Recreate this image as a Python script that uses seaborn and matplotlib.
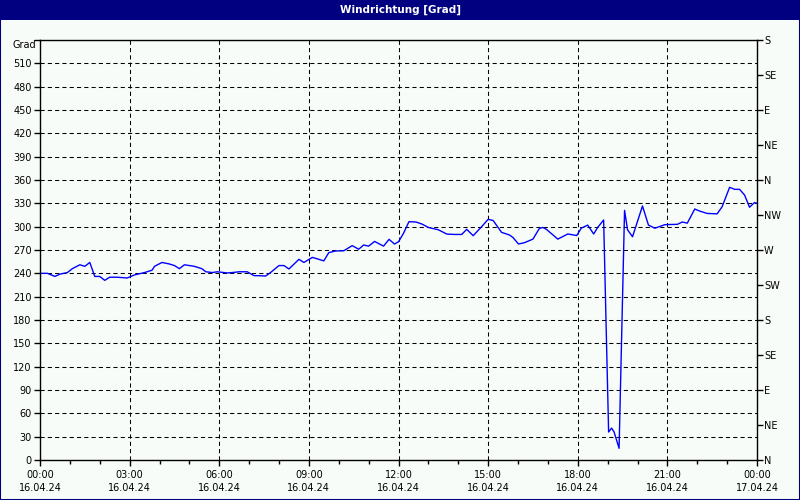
import numpy as np
import pandas as pd
import matplotlib
matplotlib.use('Agg')
import matplotlib.pyplot as plt
from matplotlib.patches import Rectangle
from matplotlib.ticker import MultipleLocator
import seaborn as sns

# values (minutes after 00:00 on 16.04.24, wind direction in degrees)
title = 'Windrichtung [Grad]'
minutes = [0, 15, 30, 40, 55, 65, 80, 90, 100, 110, 120, 130, 140, 155, 175, 190,
           210, 225, 230, 245, 260, 270, 280, 290, 310, 325, 333, 346, 356, 376,
           386, 400, 416, 430, 440, 453, 463, 480, 490, 500, 520, 530, 547, 557,
           570, 580, 593, 610, 627, 640, 650, 660, 672, 690, 701, 712, 720, 730,
           741, 755, 767, 780, 800, 817, 833, 847, 857, 870, 887, 900, 910, 927,
           943, 950, 961, 973, 990, 1003, 1010, 1017, 1040, 1060, 1078, 1087, 1100,
           1112, 1120, 1132, 1142, 1148, 1153, 1163, 1174, 1180, 1190, 1210, 1222,
           1235, 1255, 1280, 1290, 1300, 1315, 1325, 1340, 1360, 1370, 1385, 1395,
           1405, 1415, 1425, 1435, 1440]
direction = [240, 240, 236, 239, 241, 246, 251, 249, 254, 236, 236, 231, 235, 235, 234, 238,
             241, 244, 249, 254, 252, 250, 246, 251, 249, 246, 242, 241, 242, 240.5,
             241, 242, 242, 237, 237, 236.5, 241, 250, 250, 245.6, 258, 254, 260.5, 258.6,
             256, 266.6, 268.7, 269, 275.6, 271, 276.4, 275, 281, 275, 283.7, 277.7, 280.6, 291.4,
             306.4, 306, 303.4, 299, 296, 290.5, 290, 290, 296.6, 288.4, 300, 309.4, 308, 292.7,
             289.3, 286, 277.7, 279.4, 284, 297.8, 299, 296.6, 284, 290.6, 288.6, 298, 302,
             290.6, 299, 308.6, 36, 41, 36, 15, 321, 296, 287, 326.6, 302,
             298, 302.6, 303, 306, 304.5, 322.7, 320, 317, 316.5, 325.7, 350.6, 348,
             348, 340.7, 325, 331, 330]

x_tick_times = ['00:00', '03:00', '06:00', '09:00', '12:00', '15:00', '18:00', '21:00', '00:00']
x_tick_dates = ['16.04.24'] * 8 + ['17.04.24']
compass = ['N', 'NE', 'E', 'SE', 'S', 'SW', 'W', 'NW', 'N', 'NE', 'E', 'SE', 'S']

df = pd.DataFrame({'hour': np.array(minutes) / 60.0, 'deg': direction})

bg = '#f8fcf8'
navy = '#000080'

sns.set_style('ticks')
plt.rcParams['font.family'] = ['DejaVu Sans']
plt.rcParams['font.size'] = 7

fig = plt.figure(figsize=(8, 5), dpi=100, facecolor=bg)
ax = fig.add_axes([40 / 800, 40 / 500, 717 / 800, 420 / 500])
ax.set_facecolor(bg)

sns.lineplot(data=df, x='hour', y='deg', ax=ax, color='#0000ff', linewidth=1)

ax.set_xlim(0, 24)
ax.set_ylim(0, 540)
ax.set_xlabel('')
ax.set_ylabel('')

ax.xaxis.set_minor_locator(MultipleLocator(1))
ax.set_xticks(np.arange(0, 25, 3))
ax.set_xticklabels([f'{t}\n{d}' for t, d in zip(x_tick_times, x_tick_dates)])
for lbl in ax.get_xticklabels():
    lbl.set_linespacing(1.35)

yt = np.arange(0, 541, 30)
ax.set_yticks(yt)
ax.set_yticklabels([str(v) for v in yt[:-1]] + [''])

ax.tick_params(axis='both', which='major', direction='out', length=4, width=1,
               color='black', labelcolor='black', labelsize=7, pad=2)
ax.tick_params(axis='x', which='minor', direction='out', length=3, width=1, color='black')
ax.tick_params(axis='x', which='major', pad=3)

ax.grid(True, which='major', color='black', linestyle=(0, (4, 3)), linewidth=0.75)
for s in ax.spines.values():
    s.set_visible(True)
    s.set_color('black')
    s.set_linewidth(1)

ax2 = ax.twinx()
ax2.set_ylim(0, 540)
ax2.set_yticks(np.arange(0, 541, 45))
ax2.set_yticklabels(compass)
ax2.tick_params(axis='y', direction='out', length=4, width=1, color='black',
                labelcolor='black', labelsize=7, pad=1)
ax2.grid(False)
for s in ax2.spines.values():
    s.set_visible(False)

fig.text(36 / 800, 1 - 45 / 500, 'Grad', ha='right', va='center', fontsize=7, color='black')

# title bar and frame
fig.patches.append(Rectangle((0, 1 - 20 / 500), 1, 20 / 500, transform=fig.transFigure,
                             facecolor=navy, edgecolor='none', zorder=0))
fig.text(0.5, 1 - 10 / 500, title, ha='center', va='center', fontsize=7.5,
         fontweight='bold', color='white')
fig.patches.append(Rectangle((0, 0), 1, 1, transform=fig.transFigure, facecolor='none',
                             edgecolor=navy, linewidth=1.5, zorder=5))

fig.savefig('out.png', dpi=100, facecolor=bg)
